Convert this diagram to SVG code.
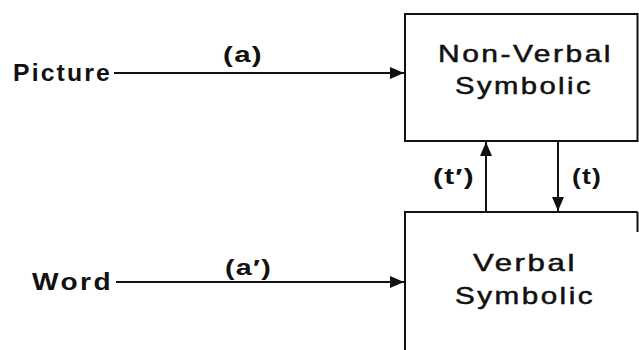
<svg xmlns="http://www.w3.org/2000/svg" width="639" height="350" viewBox="0 0 639 350">
  <style>
    .box { fill: none; stroke: #111; stroke-width: 2; }
    .wire { fill: none; stroke: #111; stroke-width: 2; }
    text { font-family: "Liberation Sans", Arial, sans-serif; fill: #111; }
    .src { font-size: 23px; font-weight: bold; letter-spacing: 2px; }
    .lbl { font-size: 22px; font-weight: bold; letter-spacing: 1px; }
    .name { font-size: 24px; letter-spacing: 2px; stroke: #111; stroke-width: 0.5; }
  </style>
  <defs>
    <marker id="head" markerUnits="userSpaceOnUse" markerWidth="14" markerHeight="12" refX="14" refY="6" orient="auto">
      <path d="M0,0 L14,6 L0,12 Z" fill="#111"/>
    </marker>
  </defs>
  <rect width="639" height="350" fill="#fff"/>

  <!-- input labels -->
  <g id="picture">
    <text class="src" x="13" y="81" textLength="99" lengthAdjust="spacingAndGlyphs">Picture</text>
  </g>
  <g id="word">
    <text class="src" x="32" y="290" textLength="81" lengthAdjust="spacingAndGlyphs">Word</text>
  </g>

  <!-- symbolic systems -->
  <g id="nonverbal">
    <rect class="box" x="405" y="14" width="232.5" height="127"/>
    <text class="name" x="438" y="62" textLength="175" lengthAdjust="spacingAndGlyphs">Non-Verbal</text>
    <text class="name" x="455" y="94" textLength="138" lengthAdjust="spacingAndGlyphs">Symbolic</text>
  </g>
  <g id="verbal">
    <path class="box" d="M405,350 V212 H637.5 M637.5,212 V232"/>
    <text class="name" x="473" y="271" textLength="104" lengthAdjust="spacingAndGlyphs">Verbal</text>
    <text class="name" x="455" y="304" textLength="140" lengthAdjust="spacingAndGlyphs">Symbolic</text>
  </g>

  <!-- connectors -->
  <g id="connectors">
    <line class="wire" x1="114" y1="73" x2="404" y2="73" marker-end="url(#head)"/>
    <line class="wire" x1="116" y1="282" x2="404" y2="282" marker-end="url(#head)"/>
    <line class="wire" x1="486" y1="212" x2="486" y2="142" marker-end="url(#head)"/>
    <line class="wire" x1="558" y1="141" x2="558" y2="211" marker-end="url(#head)"/>
    <text class="lbl" x="223" y="62" textLength="40" lengthAdjust="spacingAndGlyphs">(a)</text>
    <text class="lbl" x="225" y="275" textLength="47" lengthAdjust="spacingAndGlyphs">(a′)</text>
    <text class="lbl" x="433" y="184" textLength="42" lengthAdjust="spacingAndGlyphs">(t′)</text>
    <text class="lbl" x="572" y="184" textLength="30" lengthAdjust="spacingAndGlyphs">(t)</text>
  </g>
</svg>
